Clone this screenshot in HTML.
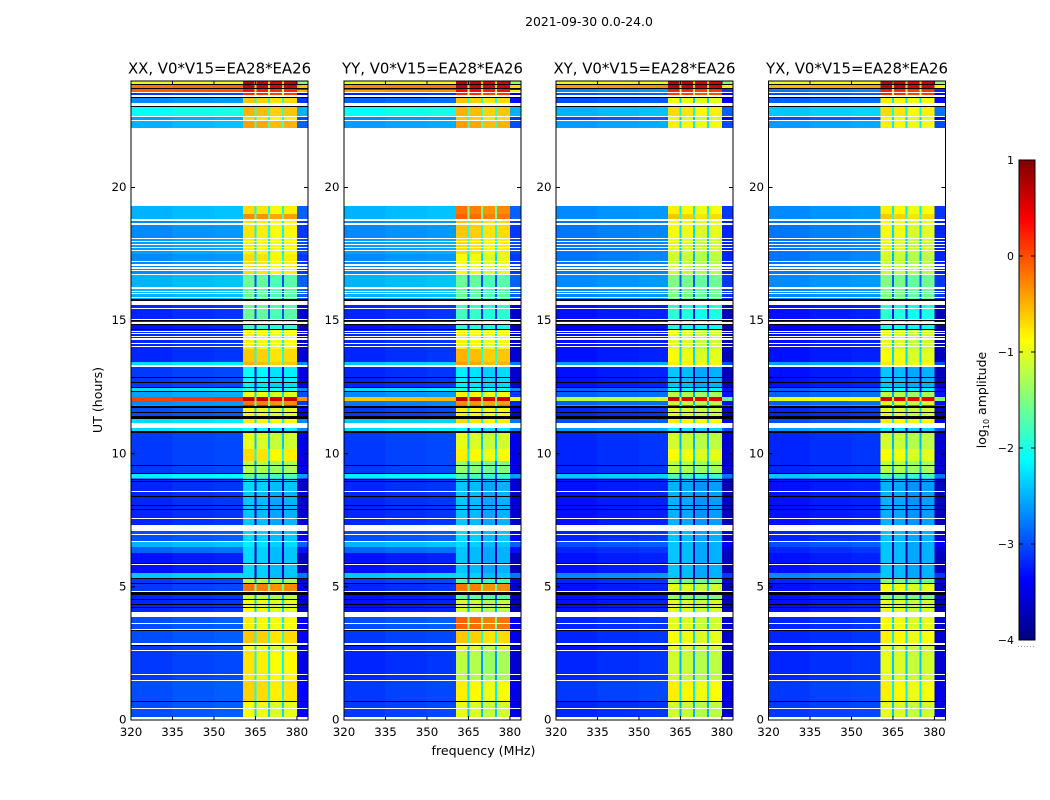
<!DOCTYPE html>
<html lang="en">
<head>
<meta charset="utf-8">
<title>2021-09-30 0.0-24.0</title>
<style>
html,body{margin:0;padding:0;background:#fff;}
#chart{display:block;width:1050px;height:800px;font-family:"DejaVu Sans","Liberation Sans",sans-serif;fill:#000;}
</style>
</head>
<body>
<svg id="chart" xmlns="http://www.w3.org/2000/svg" width="1050" height="800" viewBox="0 0 1050 800">
<text x="589" y="26" font-size="12.4" text-anchor="middle">2021-09-30 0.0-24.0</text>
<text x="483.5" y="755" font-size="12.6" text-anchor="middle">frequency (MHz)</text>
<text x="0" y="0" font-size="12.6" text-anchor="middle" transform="translate(102,400) rotate(-90)">UT (hours)</text>
<text x="0" y="0" font-size="12.5" text-anchor="middle" transform="translate(986,400) rotate(-90)">log<tspan font-size="8" dy="3">10</tspan><tspan dy="-3"> amplitude</tspan></text>
<g id="panels"></g>
<g id="colorbar"></g>
</svg>
<script>
// ---- Data -----------------------------------------------------------------
const panelTitles = ['XX, V0*V15=EA28*EA26','YY, V0*V15=EA28*EA26','XY, V0*V15=EA28*EA26','YX, V0*V15=EA28*EA26'];
const freqTicks = [320,335,350,365,380];
const utTicks = [0,5,10,15,20];
const colorTicks = [1,0,-1,-2,-3,-4];

// Frequency channels (MHz) and their kind
const freqEdges = [320,335,350,360.5,364.6,365.3,369.6,370.3,374.6,375.3,380,384];
const channelKinds = ['bg','bg','bg','band','notch','band','notch','band','notch','band','bg'];
const channelOffsets = [0,0.05,0.08,0.1,-1.3,0.05,-1.3,-0.05,-1.3,0,-0.4];

// Time rows (UT hours, top to bottom)
const utEdges = [24,23.87,23.72,23.67,23.55,23.37,23.03,22.69,22.52,22.24,19.31,19.01,18.82,18.11,17.51,16.72,15.59,15.06,14.84,14.65,13.94,13.45,13.26,12.70,12.51,12.32,12.13,11.98,11.83,11.80,11.42,11.16,10.82,10.18,9.73,9.24,9.07,8.60,7.10,6.72,6.50,6.27,5.52,5.30,5.11,4.81,4.55,4.06,3.34,2.89,2.59,1.47,0.71,0];

// log10 amplitude outside the 360-380 MHz block, per row
const bgXX = [-1,-.2,-2.6,-.1,-3.1,-2.7,-2.1,-2.6,-2.5,null,-2.5,-2.5,-2.7,-2.6,-2.7,-2.5,-3.2,-3.2,-3.3,-3.2,-3.2,-2.3,-3.1,-3.1,-2.3,-2.6,.05,-2.7,0,-3,-2.3,-2.3,-3.1,-3.1,-3.1,-2.2,-3.2,-3.2,-3,-2.5,-2.9,-3.3,-2.4,-3.1,-3.1,-3.2,-3.2,-3,-3,-3.1,-3.1,-3,-3];
const bgYY = [-1,-.3,-2.9,-.4,-3.2,-2.9,-2.1,-2.7,-2.6,null,-2.5,-2.5,-2.7,-2.6,-2.7,-2.5,-3.2,-3.3,-3.3,-3.2,-3.2,-2.4,-3.2,-3.2,-2.3,-2.7,-.6,-2.8,-2.8,-3.1,-2.4,-2.3,-3.1,-3.1,-3.1,-2.2,-3.2,-3.2,-3,-2.5,-2.9,-3.3,-2.4,-3.1,-3.2,-3.3,-3.3,-3,-3.1,-3.2,-3.2,-3.1,-3.1];
const bgXY = [-1,-.4,-2.7,-2.7,-3,-3,-2.5,-3,-2.6,null,-2.7,-2.7,-2.8,-2.8,-2.8,-2.7,-3.3,-3.3,-3.4,-3.3,-3.3,-2.6,-3.3,-3.3,-2.9,-2.9,-1.2,-2.9,-2.5,-3.2,-3,-2.6,-3.2,-3.2,-3.2,-2.4,-3.3,-3.3,-3.2,-3,-3.2,-3.3,-2.7,-3.2,-3.3,-3.3,-3.3,-3.2,-3.2,-3.3,-3.2,-3.1,-3.2];
const bgYX = [-1,-.5,-2.7,-2.8,-3,-2.9,-2.4,-3,-2.6,null,-2.7,-2.7,-2.8,-2.8,-2.8,-2.7,-3.3,-3.3,-3.4,-3.3,-3.3,-2.6,-3.3,-3.3,-2.9,-2.9,-1,-2.9,-2.6,-3.2,-3,-2.6,-3.2,-3.2,-3.2,-2.4,-3.3,-3.3,-3.2,-3,-3.2,-3.3,-2.7,-3.2,-3.3,-3.3,-3.3,-3.2,-3.2,-3.3,-3.2,-3.1,-3.1];

// log10 amplitude inside the 360-380 MHz block, per row
const bandXX = [.6,.6,.2,.2,.1,-.7,-.6,-.8,-.5,null,-.8,-.4,-.85,-.9,-.8,-1.7,-1.7,-.8,-1.9,-.9,-.7,-.6,-2.2,-2.3,-2,-1,.65,-.3,.2,-1,-.9,-2.2,-1.1,-.8,-1.3,-1.7,-2.4,-2.5,-2.4,-2.3,-2.4,-2.4,-2.4,-1.3,-.3,-1.2,-1,-.9,-.7,-1,-.85,-.75,-1];
const bandYY = [.6,.6,.3,.3,.1,-.7,-.6,-.7,-.5,null,-.3,-.2,-.7,-.8,-1,-1.7,-1.9,-.8,-2,-.9,-.6,-.5,-2.3,-2.3,-2,-.9,.65,-.4,-.2,-.9,-.8,-2.2,-1.1,-.9,-1.5,-1.8,-2.5,-2.5,-2.4,-2.4,-2.5,-2.5,-2.4,-1.8,-.3,-1.7,-1.2,-.2,-.7,-1.1,-1.3,-.9,-1.1];
const bandXY = [.6,.6,.2,.1,0,-1,-.8,-1.1,-.9,null,-.9,-.7,-1,-1.1,-1.2,-1.6,-2,-1,-2.1,-1.1,-1,-.9,-2.5,-2.5,-2.2,-1.3,.5,-1.2,0,-1.1,-.9,-2.3,-1.2,-1,-1.3,-1.8,-2.6,-2.6,-2.5,-2.5,-2.5,-2.5,-2.5,-1.6,-1.1,-1.5,-1.1,-1.1,-1,-1.1,-1.2,-.9,-1.2];
const bandYX = [.6,.6,.2,.1,.1,-.9,-.8,-1,-.9,null,-.9,-.7,-1,-1.1,-1.2,-1.6,-2,-1,-2.1,-1.1,-1,-.9,-2.5,-2.5,-2.2,-1.3,.5,-1.1,.1,-1.1,-.9,-2.3,-1.2,-1,-1.3,-1.8,-2.6,-2.6,-2.5,-2.5,-2.5,-2.5,-2.5,-1.6,-1,-1.5,-1.1,-1,-.9,-1.1,-1.1,-.9,-1.1];

// Flagged intervals (UT hours): [start, end]
const whiteGaps = [[23.59,23.55],[23.46,23.40],[23.18,23.07],[22.69,22.65],[22.52,22.50],[18.82,18.76],[18.67,18.61],[18.11,18.07],[17.99,17.95],[17.86,17.82],[17.75,17.71],[17.64,17.60],[17.24,17.20],[17.13,17.07],[17.02,16.96],[16.89,16.85],[16.75,16.72],[16.27,16.21],[16.13,16.10],[16.02,15.98],[15.87,15.83],[15.76,15.59],[15.48,15.44],[15.06,15.01],[14.96,14.89],[14.86,14.83],[14.61,14.58],[14.52,14.47],[14.42,14.38],[14.36,14.27],[14.16,14.12],[14.05,14.01],[13.35,13.26],[11.16,10.97],[8.60,8.56],[7.57,7.54],[7.33,7.11],[6.99,6.95],[6.74,6.71],[5.87,5.83],[4.85,4.81],[4.07,3.88],[3.63,3.60],[3.41,3.38],[2.90,2.82],[2.64,2.60],[1.72,1.69],[1.51,1.48],[0.45,0.41],[0.13,0]];
const blackGaps = [[23.89,23.85],[23.74,23.70],[23.40,23.36],[23.07,23.03],[15.83,15.76],[15.01,14.97],[14.88,14.85],[14.67,14.62],[12.90,12.87],[12.70,12.68],[12.51,12.47],[12.35,12.30],[11.81,11.73],[11.56,11.53],[11.42,11.32],[10.86,10.79],[9.59,9.57],[9.28,9.23],[9.05,9.02],[8.96,8.94],[8.40,8.38],[8.06,8.04],[7.93,7.90],[5.91,5.87],[5.32,5.30],[5.15,5.11],[4.81,4.68],[4.56,4.52],[4.34,4.30],[4.24,4.20],[3.38,3.33],[2.82,2.77],[0.71,0.68]];

const bgSeries = [bgXX,bgYY,bgXY,bgYX];
const bandSeries = [bandXX,bandYY,bandXY,bandYX];

// ---- Layout ---------------------------------------------------------------
const NS = 'http://www.w3.org/2000/svg';
const panelLefts = [131,344,556,768.5];
const panelWidth = 177;
const plotTop = 81, plotBottom = 720;
const freqMin = 320, freqMax = 384, utMin = 0, utMax = 24;
const barLeft = 1019, barRight = 1035, barTop = 160, barBottom = 640;
const panelsGroup = document.getElementById('panels');
const colorbarGroup = document.getElementById('colorbar');

function xScale(left, f){ return left + (f - freqMin) / (freqMax - freqMin) * panelWidth; }
function yScale(ut){ return plotBottom - (ut - utMin) / (utMax - utMin) * (plotBottom - plotTop); }
function cbScale(v){ return barBottom - (v + 4) / 5 * (barBottom - barTop); }

function jetChannel(t, offset){
  const v = 1.5 - Math.abs(4 * t - offset);
  return Math.round(255 * Math.max(0, Math.min(1, v)));
}
function jet(value){
  const t = Math.max(0, Math.min(1, (value + 4) / 5));
  return 'rgb(' + jetChannel(t,3) + ',' + jetChannel(t,2) + ',' + jetChannel(t,1) + ')';
}
function svgEl(tag, attrs, parent){
  const el = document.createElementNS(NS, tag);
  Object.keys(attrs).forEach(function(k){ el.setAttribute(k, attrs[k]); });
  parent.appendChild(el);
  return el;
}
function label(text, x, y, anchor, size, parent){
  const t = svgEl('text', {x:x, y:y, 'text-anchor':anchor, 'font-size':size}, parent);
  t.textContent = text;
  return t;
}
// Flagged rows snap to whole pixels, at least one pixel tall, so thin ones stay visible.
function gapY(gap){ return Math.round(yScale(gap[0])); }
function gapHeight(gap){ return Math.max(1, Math.round(yScale(gap[1]) - yScale(gap[0]))); }

// ---- Panels ---------------------------------------------------------------
panelTitles.forEach(function(title, p){
  const left = panelLefts[p];
  const right = left + panelWidth;
  const g = svgEl('g', {}, panelsGroup);
  
  

  const cells = svgEl('g', {'shape-rendering':'crispEdges'}, g);
  
  

  for (let r = 0; r < utEdges.length - 1; r++) {
    const bg = bgSeries[p][r];
    const band = bandSeries[p][r];
    if (bg === null || band === null) continue;
    for (let c = 0; c < channelKinds.length; c++) {
      const base = channelKinds[c] === 'bg' ? bg : band;
      const value = base + channelOffsets[c];
      const x0 = xScale(left, freqEdges[c]);
      const x1 = xScale(left, freqEdges[c+1]);
      const y0 = yScale(utEdges[r]);
      const y1 = yScale(utEdges[r+1]);
      const cell = svgEl('rect', {x:x0, y:y0, width:x1-x0, height:y1-y0, fill:jet(value)}, cells);
      
      
    }
  }
  whiteGaps.forEach(function(gap){
    const rect = svgEl('rect', {x:left, y:gapY(gap), width:panelWidth, height:gapHeight(gap), fill:'#fff'}, cells);
    
    
  });
  blackGaps.forEach(function(gap){
    const rect = svgEl('rect', {x:left, y:gapY(gap), width:panelWidth, height:gapHeight(gap), fill:'#000'}, cells);
    
    
  });

  const frame = svgEl('rect', {x:left, y:plotTop, width:panelWidth, height:plotBottom-plotTop, fill:'none', stroke:'#000', 'stroke-width':1}, g);
  
  

  const titleEl = label(title, left + panelWidth/2, 73.5, 'middle', 14.9, g);
  
  

  freqTicks.forEach(function(f){
    const x = xScale(left, f);
    const t1 = svgEl('line', {x1:x, x2:x, y1:plotBottom, y2:plotBottom-4, stroke:'#000'}, g);
    
    
    const t2 = svgEl('line', {x1:x, x2:x, y1:plotTop, y2:plotTop+4, stroke:'#000'}, g);
    
    
    const lab = label(String(f), x, 736, 'middle', 11.8, g);
    
    
  });
  utTicks.forEach(function(u){
    const y = yScale(u);
    const t1 = svgEl('line', {x1:left, x2:left+4, y1:y, y2:y, stroke:'#000'}, g);
    
    
    const t2 = svgEl('line', {x1:right, x2:right-4, y1:y, y2:y, stroke:'#000'}, g);
    
    
    const lab = label(String(u), left-4.5, y+3.5, 'end', 11.8, g);
    
    
  });
});

// ---- Colorbar -------------------------------------------------------------
for (let py = barTop; py < barBottom; py++) {
  const v = 1 - (py + 0.5 - barTop) / (barBottom - barTop) * 5;
  const strip = svgEl('rect', {x:barLeft, y:py, width:barRight-barLeft, height:1, fill:jet(v), 'shape-rendering':'crispEdges'}, colorbarGroup);
  
  
}
const barFrame = svgEl('rect', {x:barLeft, y:barTop, width:barRight-barLeft, height:barBottom-barTop, fill:'none', stroke:'#000'}, colorbarGroup);


colorTicks.forEach(function(v){
  const y = cbScale(v);
  const t1 = svgEl('line', {x1:barLeft, x2:barLeft+4, y1:y, y2:y, stroke:'#000'}, colorbarGroup);
  
  
  const t2 = svgEl('line', {x1:barRight, x2:barRight-4, y1:y, y2:y, stroke:'#000'}, colorbarGroup);
  
  
  const text = v < 0 ? '\u2212' + Math.abs(v) : String(v);
  const lab = label(text, barLeft-5, y+4, 'end', 11, colorbarGroup);
  
  
});
const dots = svgEl('line', {x1:barLeft-1, x2:barRight, y1:646.5, y2:646.5, stroke:'#999', 'stroke-dasharray':'1 2'}, colorbarGroup);


</script>
</body>
</html>
